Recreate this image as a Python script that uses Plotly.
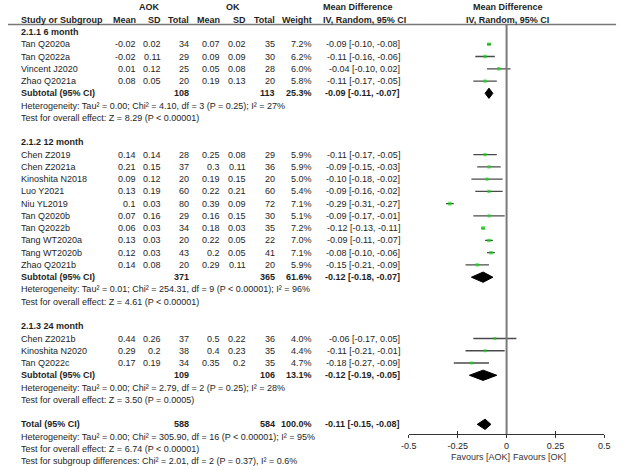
import plotly.graph_objects as go

# ---------------- data ----------------
groups = ["2.1.1 6 month", "2.1.2 12 month", "2.1.3 24 month"]
study_group = [0, 0, 0, 0, 1, 1, 1, 1, 1, 1, 1, 1, 1, 1, 2, 2, 2]
studies = ["Tan Q2020a", "Tan Q2022a", "Vincent J2020", "Zhao Q2021a",
           "Chen Z2019", "Chen Z2021a", "Kinoshita N2018", "Luo Y2021", "Niu YL2019",
           "Tan Q2020b", "Tan Q2022b", "Tang WT2020a", "Tang WT2020b", "Zhao Q2021b",
           "Chen Z2021b", "Kinoshita N2020", "Tan Q2022c"]
aok_mean = [-0.02, -0.02, 0.01, 0.08, 0.14, 0.21, 0.09, 0.13, 0.1, 0.07, 0.06, 0.13, 0.12, 0.14, 0.44, 0.29, 0.17]
aok_sd = [0.02, 0.11, 0.12, 0.05, 0.14, 0.15, 0.12, 0.19, 0.03, 0.16, 0.03, 0.03, 0.03, 0.08, 0.26, 0.2, 0.19]
aok_n = [34, 29, 25, 20, 28, 37, 20, 60, 80, 29, 34, 20, 43, 20, 37, 38, 34]
ok_mean = [0.07, 0.09, 0.05, 0.19, 0.25, 0.3, 0.19, 0.22, 0.39, 0.16, 0.18, 0.22, 0.2, 0.29, 0.5, 0.4, 0.35]
ok_sd = [0.02, 0.09, 0.08, 0.13, 0.08, 0.11, 0.15, 0.21, 0.09, 0.15, 0.03, 0.05, 0.05, 0.11, 0.22, 0.23, 0.2]
ok_n = [35, 30, 28, 20, 29, 36, 20, 60, 72, 30, 35, 22, 41, 20, 36, 35, 35]
weights = [7.2, 6.2, 6.0, 5.8, 5.9, 5.9, 5.0, 5.4, 7.1, 5.1, 7.2, 7.0, 7.1, 5.9, 4.0, 4.4, 4.7]
md = [-0.09, -0.11, -0.04, -0.11, -0.11, -0.09, -0.10, -0.09, -0.29, -0.09, -0.12, -0.09, -0.08, -0.15, -0.06, -0.11, -0.18]
md_lo = [-0.10, -0.16, -0.10, -0.17, -0.17, -0.15, -0.18, -0.16, -0.31, -0.17, -0.13, -0.11, -0.10, -0.21, -0.17, -0.21, -0.27]
md_hi = [-0.08, -0.06, 0.02, -0.05, -0.05, -0.03, -0.02, -0.02, -0.27, -0.01, -0.11, -0.07, -0.06, -0.09, 0.05, -0.01, -0.09]

sub_aok_n = [108, 371, 109]
sub_ok_n = [113, 365, 106]
sub_weight = [25.3, 61.6, 13.1]
sub_md = [-0.09, -0.12, -0.12]
sub_lo = [-0.11, -0.18, -0.19]
sub_hi = [-0.07, -0.07, -0.05]
sub_het = ["Heterogeneity: Tau² = 0.00; Chi² = 4.10, df = 3 (P = 0.25); I² = 27%",
           "Heterogeneity: Tau² = 0.01; Chi² = 254.31, df = 9 (P < 0.00001); I² = 96%",
           "Heterogeneity: Tau² = 0.00; Chi² = 2.79, df = 2 (P = 0.25); I² = 28%"]
sub_test = ["Test for overall effect: Z = 8.29 (P < 0.00001)",
            "Test for overall effect: Z = 4.61 (P < 0.00001)",
            "Test for overall effect: Z = 3.50 (P = 0.0005)"]

total_aok_n = 588
total_ok_n = 584
total_weight = 100.0
total_md, total_lo, total_hi = -0.11, -0.15, -0.08
total_notes = ["Heterogeneity: Tau² = 0.00; Chi² = 305.90, df = 16 (P < 0.00001); I² = 95%",
               "Test for overall effect: Z = 6.74 (P < 0.00001)",
               "Test for subgroup differences: Chi² = 2.01, df = 2 (P = 0.37), I² = 0.6%"]

tick_vals = [-0.5, -0.25, 0, 0.25, 0.5]
tick_text = ["-0.5", "-0.25", "0", "0.25", "0.5"]
favours = ["Favours [AOK]", "Favours [OK]"]

# ---------------- layout helpers ----------------
W, H = 625, 470
ROW0_PX, ROW_H = 7.48, 12.26
FONT = "Liberation Sans, Arial, sans-serif"
TXT = "#1e1e1e"
FS = 9

def px2row(py):
    return (py - ROW0_PX) / ROW_H

col_right = {"aok_m": 131, "aok_sd": 157, "aok_n": 185, "ok_m": 217, "ok_sd": 243,
             "ok_n": 273, "w": 311, "ci": 401}
LABEL_X = 13

annotations = []

def txt(x_px, row, s, anchor="right", bold=False):
    annotations.append(dict(
        x=x_px / W, xref="paper", y=row, yref="y", text=("<b>%s</b>" % s) if bold else s,
        xanchor=anchor, yanchor="middle", showarrow=False, borderpad=0, borderwidth=0,
        font=dict(family=FONT, size=FS, color=TXT)))

def fmt_ci(m, l, h):
    return "%.2f [%.2f, %.2f]" % (m, l, h)

# header
txt(145, 0, "AOK", "center", True)
txt(230, 0, "OK", "center", True)
txt(322, 0, "Mean Difference", "left", True)
txt(511, 0, "Mean Difference", "center", True)
txt(LABEL_X, 1, "Study or Subgroup", "left", True)
for key, lab in [("aok_m", "Mean"), ("aok_sd", "SD"), ("aok_n", "Total"), ("ok_m", "Mean"),
                 ("ok_sd", "SD"), ("ok_n", "Total"), ("w", "Weight")]:
    txt(col_right[key], 1, lab, "right", True)
txt(322, 1, "IV, Random, 95% CI", "left", True)
txt(511, 1, "IV, Random, 95% CI", "center", True)

# rows
row = 2
study_rows = []
diamonds = []
for g, gname in enumerate(groups):
    txt(LABEL_X, row, gname, "left", True)
    row += 1
    for i, s in enumerate(studies):
        if study_group[i] != g:
            continue
        txt(LABEL_X, row, s, "left")
        txt(col_right["aok_m"], row, str(aok_mean[i]))
        txt(col_right["aok_sd"], row, str(aok_sd[i]))
        txt(col_right["aok_n"], row, str(aok_n[i]))
        txt(col_right["ok_m"], row, str(ok_mean[i]))
        txt(col_right["ok_sd"], row, str(ok_sd[i]))
        txt(col_right["ok_n"], row, str(ok_n[i]))
        txt(col_right["w"], row, "%.1f%%" % weights[i])
        txt(col_right["ci"], row, fmt_ci(md[i], md_lo[i], md_hi[i]))
        study_rows.append(row)
        row += 1
    txt(LABEL_X, row, "Subtotal (95% CI)", "left", True)
    txt(col_right["aok_n"], row, str(sub_aok_n[g]), "right", True)
    txt(col_right["ok_n"], row, str(sub_ok_n[g]), "right", True)
    txt(col_right["w"], row, "%.1f%%" % sub_weight[g], "right", True)
    txt(col_right["ci"], row, fmt_ci(sub_md[g], sub_lo[g], sub_hi[g]), "right", True)
    diamonds.append((row, sub_md[g], sub_lo[g], sub_hi[g]))
    row += 1
    txt(LABEL_X, row, sub_het[g], "left")
    row += 1
    txt(LABEL_X, row, sub_test[g], "left")
    row += 2

txt(LABEL_X, row, "Total (95% CI)", "left", True)
txt(col_right["aok_n"], row, str(total_aok_n), "right", True)
txt(col_right["ok_n"], row, str(total_ok_n), "right", True)
txt(col_right["w"], row, "%.1f%%" % total_weight, "right", True)
txt(col_right["ci"], row, fmt_ci(total_md, total_lo, total_hi), "right", True)
diamonds.append((row, total_md, total_lo, total_hi))
for k, note in enumerate(total_notes):
    txt(LABEL_X, row + 1 + k, note, "left")

# ---------------- figure ----------------
fig = go.Figure()

# study estimates with CI
fig.add_trace(go.Scatter(
    x=md, y=study_rows, mode="markers",
    marker=dict(symbol="square", size=[2.0 + 0.22 * w for w in weights], color="#14d814",
                line=dict(width=0)),
    error_x=dict(type="data", symmetric=False,
                 array=[h - m for h, m in zip(md_hi, md)],
                 arrayminus=[m - l for m, l in zip(md, md_lo)],
                 color="#4a4a4a", thickness=1.3, width=0),
    hoverinfo="skip", showlegend=False))

# diamonds
DH = 0.42
dx, dy = [], []
for r, m, l, h in diamonds:
    dx += [l, m, h, m, l, None]
    dy += [r, r - DH, r, r + DH, r, None]
fig.add_trace(go.Scatter(x=dx, y=dy, mode="lines", fill="toself", fillcolor="black",
                         line=dict(color="black", width=1), hoverinfo="skip", showlegend=False))

# helper trace for upper tick marks
fig.add_trace(go.Scatter(x=[None], y=[None], xaxis="x2", yaxis="y", hoverinfo="skip",
                         showlegend=False))

axis_px = 434
axis_pos = (H - axis_px) / H
x_dom = [410 / W, 610 / W]

fig.update_layout(
    width=W, height=H,
    margin=dict(l=0, r=0, t=0, b=0),
    paper_bgcolor="white", plot_bgcolor="rgba(0,0,0,0)",
    font=dict(family=FONT, size=FS, color=TXT),
    hovermode=False,
    xaxis=dict(domain=x_dom, range=[-0.5, 0.5], anchor="free", position=axis_pos,
               showgrid=False, zeroline=False, showline=True, linecolor="#333", linewidth=1,
               ticks="outside", ticklen=3, tickcolor="#333", tickwidth=1,
               tickvals=tick_vals, ticktext=tick_text,
               tickfont=dict(family=FONT, size=FS, color=TXT), fixedrange=True),
    xaxis2=dict(domain=x_dom, range=[-0.5, 0.5], anchor="free", position=axis_pos,
                overlaying="x", showgrid=False, zeroline=False, showline=False,
                ticks="inside", ticklen=3, tickcolor="#333", tickwidth=1,
                tickvals=tick_vals, showticklabels=False, fixedrange=True),
    yaxis=dict(domain=[0, 1], range=[px2row(H), px2row(0)], visible=False, fixedrange=True),
    annotations=annotations,
    shapes=[
        dict(type="line", xref="paper", yref="y", x0=0, x1=622 / W,
             y0=px2row(24.5), y1=px2row(24.5), line=dict(color="#777", width=1.6)),
        dict(type="line", xref="x", yref="y", x0=0, x1=0,
             y0=px2row(25), y1=px2row(axis_px), line=dict(color="#7a7a7a", width=2)),
    ],
)

fig.add_annotation(x=0.015, xref="x", y=px2row(457), yref="y", text=favours[0],
                   xanchor="right", yanchor="middle", showarrow=False, borderpad=0,
                   borderwidth=0, font=dict(family=FONT, size=FS, color="#333"))
fig.add_annotation(x=0.035, xref="x", y=px2row(457), yref="y", text=favours[1],
                   xanchor="left", yanchor="middle", showarrow=False, borderpad=0,
                   borderwidth=0, font=dict(family=FONT, size=FS, color="#333"))

fig.write_html("out.html", config={"displayModeBar": False, "staticPlot": True},
               post_script="document.body.style.margin='0';document.body.style.overflow='hidden';")
